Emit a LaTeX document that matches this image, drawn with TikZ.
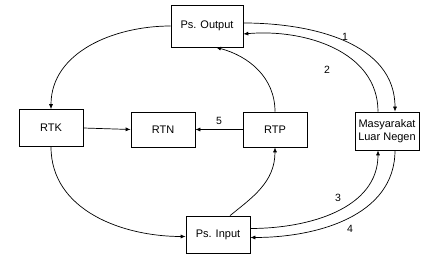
\documentclass[tikz,border=0pt]{standalone}
\usepackage{fontspec}
\setmainfont{Liberation Sans}
\usetikzlibrary{arrows.meta, positioning}
\tikzset{
    sectorbox/.style={rectangle, draw, line width=0.7pt, inner sep=0pt, minimum width=64pt, minimum height=#1, align=center, font=\fontsize{11}{12.5}\selectfont},
    flowarrow/.style={-{Latex[length=5pt, width=4pt]}, line width=0.7pt},
    flowlabel/.style={font=\fontsize{10.5}{12}\selectfont, inner sep=0pt}
}

\begin{document}
\begin{tikzpicture}[x=1pt, y=-1pt]
\useasboundingbox (0,0) rectangle (434,261);

\node[sectorbox=42pt, minimum width=72pt] (psout) at (207,26) {Ps. Output};
\node[sectorbox=37pt] (rtk) at (51,128) {RTK};
\node[sectorbox=35pt] (rtn) at (163,129.5) {RTN};
\node[sectorbox=35pt] (rtp) at (275,129.5) {RTP};
\node[sectorbox=38pt, inner sep=1pt] (mln) at (387,131) {Masyarakat\\Luar Negen};
\node[sectorbox=37pt] (psin) at (218,234.5) {Ps. Input};

% inner loop
\draw[flowarrow] (psout.west) to[out=180, in=90] (rtk.north);
\draw[flowarrow] (rtk.east) -- (rtn.west);
\draw[flowarrow] (rtp.west) -- node[flowlabel, above=5pt] {5} (rtn.east);
\draw[flowarrow] (rtp.north) to[out=90, in=-15] ([xshift=9pt]psout.south);
\draw[flowarrow] (rtk.south) to[out=-90, in=180] ([yshift=-2pt]psin.west);
\draw[flowarrow] ([xshift=12pt]psin.north) .. controls +(22,-18) and +(0,35) .. (rtp.south);

% rest of world
\draw[flowarrow] ([yshift=3pt]psout.east) to[out=0, in=90] ([xshift=8pt]mln.north);
\draw[flowarrow] ([xshift=-9pt]mln.north) to[out=90, in=5] ([yshift=-8pt]psout.east);
\draw[flowarrow] ([yshift=6pt]psin.east) to[out=0, in=-90] ([xshift=-9pt]mln.south);
\draw[flowarrow] ([xshift=8pt]mln.south) to[out=-90, in=0] ([yshift=-3pt]psin.east);

\node[flowlabel] (lbl1) at (345,37) {1};
\node[flowlabel] (lbl2) at (327,70) {2};
\node[flowlabel] (lbl3) at (338,198) {3};
\node[flowlabel] (lbl4) at (350,229) {4};

\end{tikzpicture}
\end{document}
